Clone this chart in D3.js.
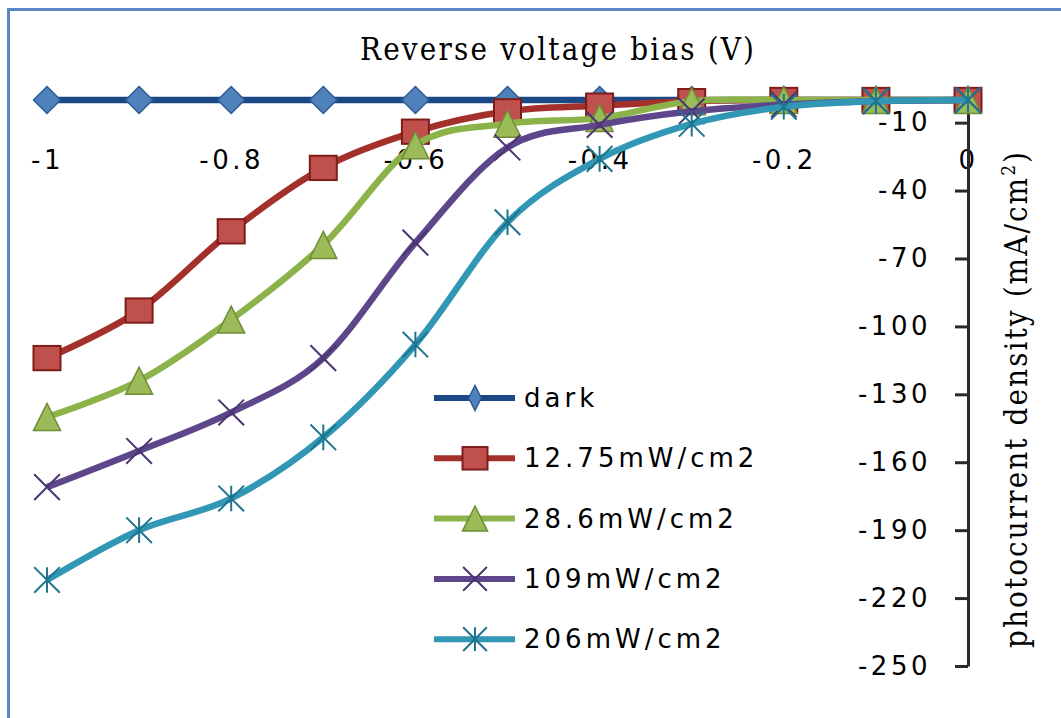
<!DOCTYPE html>
<html>
<head>
<meta charset="utf-8">
<script src="https://cdn.jsdelivr.net/npm/d3@7"></script>
<style>
  html, body { margin: 0; padding: 0; background: #fff; }
  svg { display: block; }
</style>
</head>
<body>
<svg id="chart" width="1061" height="718"></svg>
<script>
// Reverse bias sweep (V)
const voltages = [-1, -0.9, -0.8, -0.7, -0.6, -0.5, -0.4, -0.3, -0.2, -0.1, 0];

// Photocurrent density (mA/cm2) per illumination level
const dark    = [0, 0, 0, 0, 0, 0, 0, 0, 0, 0, 0];
const p12_75  = [-114, -93, -58, -30, -14, -5, -2.5, -0.5, 0, 0, 0];
const p28_6   = [-140, -124, -97, -64, -20, -10.5, -8, -0.5, 0, 0, 0];
const p109    = [-171, -155, -138, -114, -63, -21, -11, -5, -2, -0.5, 0];
const p206    = [-212, -190, -176, -149, -108, -54, -26, -10.5, -3, -0.5, 0];

const seriesNames = ["dark", "12.75mW/cm2", "28.6mW/cm2", "109mW/cm2", "206mW/cm2"];
const seriesValues = [dark, p12_75, p28_6, p109, p206];

// Axis ticks
const xTicks = [-1, -0.8, -0.6, -0.4, -0.2, 0];
const xTickLabels = ["-1", "-0.8", "-0.6", "-0.4", "-0.2", "0"];
const yTicks = [-10, -40, -70, -100, -130, -160, -190, -220, -250];
const yTickLabels = ["-10", "-40", "-70", "-100", "-130", "-160", "-190", "-220", "-250"];

const styles = [
  { line: "#1d4886", fill: "#4f81bd", stroke: "#2f5b93", marker: "diamond" },
  { line: "#a3302b", fill: "#c0504d", stroke: "#7e1d18", marker: "square" },
  { line: "#8cb24a", fill: "#9bbb59", stroke: "#6f8c36", marker: "triangle" },
  { line: "#5e468a", fill: "none",    stroke: "#4a3572", marker: "x" },
  { line: "#3197b4", fill: "none",    stroke: "#1f7590", marker: "star" }
];

const svg = d3.select("#chart");

// Chart frame
svg.append("rect")
  .attr("x", 8.5).attr("y", 9.5)
  .attr("width", 1200).attr("height", 900)
  .attr("fill", "#fff")
  .attr("stroke", "#5b88c4")
  .attr("stroke-width", 3);

const x = d3.scaleLinear().domain([-1, 0]).range([47, 968]);
const y = d3.scaleLinear().domain([-250, 0]).range([666, 100]);

const sansFont = "'DejaVu Sans', Verdana, sans-serif";
const serifFont = "'DejaVu Serif Condensed', 'DejaVu Serif', serif";

// Horizontal axis labels (axis sits at y = 0)
const xAxis = svg.append("g")
  .attr("transform", `translate(0,${y(0)})`)
  .call(d3.axisBottom(x)
    .tickValues(xTicks)
    .tickSize(0)
    .tickPadding(51)
    .tickFormat((d, i) => xTickLabels[i]));
xAxis.select(".domain").attr("stroke", "#333").attr("stroke-width", 2);
xAxis.selectAll("text")
  .attr("fill", "#000")
  .style("font-family", sansFont)
  .style("font-size", "26px")
  .style("letter-spacing", "3.5px");

// Vertical axis on the right
const yAxis = svg.append("g")
  .attr("transform", `translate(${x(0)},0)`)
  .call(d3.axisLeft(y)
    .tickValues(yTicks)
    .tickSize(13)
    .tickSizeOuter(0)
    .tickPadding(24)
    .tickFormat((d, i) => yTickLabels[i]));
yAxis.select(".domain").attr("stroke", "#2a2a2a").attr("stroke-width", 3);
yAxis.selectAll(".tick line").attr("stroke", "#2a2a2a").attr("stroke-width", 3);
yAxis.selectAll("text")
  .attr("fill", "#000")
  .style("font-family", sansFont)
  .style("font-size", "26px")
  .style("letter-spacing", "3.5px");

// Axis titles
svg.append("text")
  .attr("x", 557).attr("y", 60)
  .attr("text-anchor", "middle")
  .attr("textLength", 394)
  .attr("lengthAdjust", "spacing")
  .style("font-family", serifFont)
  .style("font-stretch", "condensed")
  .style("font-size", "31px")
  .attr("fill", "#000")
  .text("Reverse voltage bias (V)");

const yTitle = svg.append("text")
  .attr("transform", "translate(1027,400) rotate(-90)")
  .attr("text-anchor", "middle")
  .attr("textLength", 496)
  .attr("lengthAdjust", "spacing")
  .style("font-family", serifFont)
  .style("font-stretch", "condensed")
  .style("font-size", "31px")
  .attr("fill", "#000");
yTitle.append("tspan").text("photocurrent density (mA/cm");
yTitle.append("tspan").attr("dy", -12).style("font-size", "19px").text("2");
yTitle.append("tspan").attr("dy", 12).text(")");

// Marker shapes
function drawMarker(g, type, cx, cy, st, s, aspect) {
  const h = s / 2;
  if (type === "diamond") {
    const w = h * aspect;
    g.append("path")
      .attr("d", `M${cx},${cy - h}L${cx + w},${cy}L${cx},${cy + h}L${cx - w},${cy}Z`)
      .attr("fill", st.fill).attr("stroke", st.stroke).attr("stroke-width", 1.5);
  } else if (type === "square") {
    g.append("rect")
      .attr("x", cx - h).attr("y", cy - h * 0.9)
      .attr("width", s).attr("height", s * 0.9)
      .attr("fill", st.fill).attr("stroke", st.stroke).attr("stroke-width", 2);
  } else if (type === "triangle") {
    g.append("path")
      .attr("d", `M${cx},${cy - h}L${cx + h},${cy + h}L${cx - h},${cy + h}Z`)
      .attr("fill", st.fill).attr("stroke", st.stroke).attr("stroke-width", 1.5);
  } else if (type === "x" || type === "star") {
    const d = h * 0.95;
    g.append("path")
      .attr("d", `M${cx - d},${cy - d}L${cx + d},${cy + d}M${cx - d},${cy + d}L${cx + d},${cy - d}` +
        (type === "star" ? `M${cx},${cy - d}L${cx},${cy + d}` : ""))
      .attr("fill", "none").attr("stroke", st.stroke).attr("stroke-width", 2);
  }
}

const line = d3.line()
  .x((d, i) => x(voltages[i]))
  .y(d => y(d))
  .curve(d3.curveCatmullRom.alpha(0));

const plot = svg.append("g");
seriesValues.forEach((vals, k) => {
  const st = styles[k];
  const g = plot.append("g");
  g.append("path")
    .attr("d", line(vals))
    .attr("fill", "none")
    .attr("stroke", st.line)
    .attr("stroke-width", 6.5)
    .attr("stroke-linejoin", "round");
  vals.forEach((v, i) => drawMarker(g, st.marker, x(voltages[i]), y(v), st, 27, 1));
});

// Legend
const legend = svg.append("g");
seriesNames.forEach((name, k) => {
  const st = styles[k];
  const ly = 398 + k * 60.3;
  const g = legend.append("g");
  g.append("line")
    .attr("x1", 434).attr("x2", 515)
    .attr("y1", ly).attr("y2", ly)
    .attr("stroke", st.line).attr("stroke-width", 6);
  drawMarker(g, st.marker, 475, ly, st, 25, 0.5);
  g.append("text")
    .attr("x", 524).attr("y", ly)
    .attr("dominant-baseline", "central")
    .style("font-family", sansFont)
    .style("font-size", "26px")
    .style("letter-spacing", "4px")
    .attr("fill", "#000")
    .text(name);
});
</script>
</body>
</html>
